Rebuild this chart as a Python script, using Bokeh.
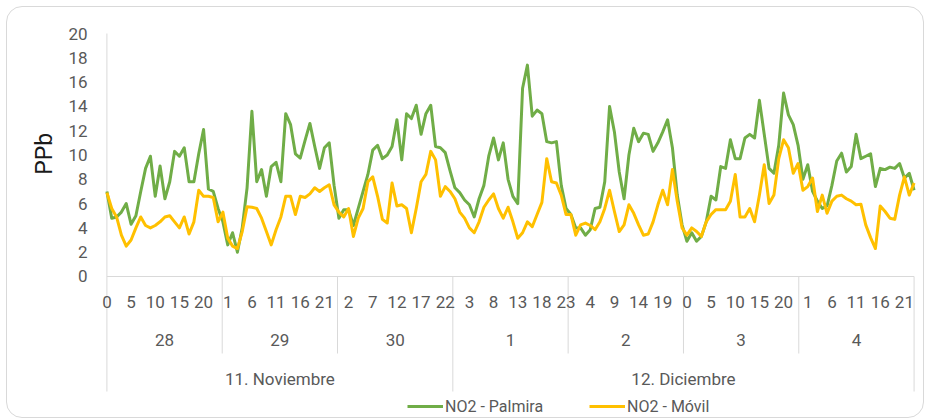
import math
from bokeh.plotting import figure
from bokeh.models import Range1d, Legend, LegendItem
from bokeh.core.properties import value
from bokeh.embed import file_html
from bokeh.resources import INLINE

# ---------------- data ----------------
days = ["28", "29", "30", "1", "2", "3", "4"]
months = ["11. Noviembre", "12. Diciembre"]
month_days = [3, 4]
hours_per_day = 24

palmira = [
    7.0, 4.8, 4.9, 5.3, 6.0, 4.3, 5.0, 7.0, 8.9, 9.9, 6.6, 9.1, 6.4, 7.8, 10.3, 9.9, 10.6, 7.8, 7.8, 10.1, 12.1, 7.2, 7.0, 5.6,
    4.5, 2.6, 3.6, 2.0, 4.0, 7.3, 13.6, 7.8, 8.8, 6.6, 9.05, 9.4, 7.8, 13.4, 12.5, 10.1, 9.75, 11.2, 12.6, 10.7, 8.9, 10.6, 11.0, 7.5,
    4.8, 5.5, 5.5, 4.2, 5.6, 7.0, 8.4, 10.4, 10.8, 9.7, 10.0, 10.7, 12.9, 9.6, 13.4, 13.0, 14.1, 11.7, 13.4, 14.1, 10.7, 10.6, 10.2, 8.7,
    7.3, 6.9, 6.3, 5.9, 4.9, 6.4, 7.5, 9.9, 11.4, 9.6, 11.0, 8.0, 6.6, 6.0, 15.5, 17.4, 13.2, 13.7, 13.4, 11.1, 11.0, 11.1, 7.5, 5.6,
    5.1, 4.0, 4.0, 3.4, 3.85, 5.6, 5.7, 7.8, 14.0, 11.9, 8.6, 6.4, 10.0, 12.2, 11.1, 11.8, 11.7, 10.3, 11.0, 11.9, 12.9, 10.6, 6.7, 4.25,
    2.9, 3.6, 2.9, 3.3, 4.5, 6.6, 6.3, 9.05, 8.9, 11.25, 9.7, 9.7, 11.4, 11.7, 11.4, 14.5, 11.7, 8.9, 8.5, 10.8, 15.1, 13.3, 12.5, 10.8,
    8.0, 9.2, 7.0, 6.2, 5.6, 5.8, 7.5, 9.5, 10.15, 8.6, 9.05, 11.7, 9.7, 9.9, 10.1, 7.4, 8.9, 8.8, 9.0, 8.9, 9.3, 8.1, 8.5, 7.1,
]
movil = [
    6.9, 5.6, 4.9, 3.4, 2.5, 3.0, 4.0, 4.9, 4.2, 4.0, 4.2, 4.5, 4.9, 5.0, 4.5, 4.0, 4.9, 3.5, 4.5, 7.1, 6.6, 6.6, 6.5, 4.5,
    5.3, 3.15, 2.5, 2.3, 3.7, 5.75, 5.7, 5.6, 4.8, 3.7, 2.6, 3.85, 4.9, 6.6, 6.6, 5.1, 6.6, 6.5, 6.8, 7.3, 7.0, 7.3, 7.55, 5.9,
    5.3, 4.9, 5.6, 3.3, 4.8, 5.6, 7.8, 8.2, 6.6, 4.7, 4.4, 7.7, 5.8, 5.9, 5.6, 3.6, 5.6, 7.8, 8.4, 10.3, 9.6, 6.6, 7.4, 7.0,
    6.4, 5.3, 4.8, 4.0, 3.6, 4.5, 5.7, 6.3, 6.8, 5.6, 4.8, 5.7, 4.5, 3.15, 3.6, 4.5, 4.1, 5.1, 6.1, 9.7, 7.8, 7.7, 6.7, 5.1,
    5.1, 3.4, 4.25, 4.4, 4.2, 3.85, 4.5, 5.6, 7.1, 5.35, 3.7, 4.25, 5.9, 5.2, 4.25, 3.4, 3.5, 4.5, 5.9, 7.1, 5.9, 8.8, 6.2, 4.0,
    3.4, 4.0, 3.7, 3.3, 4.5, 5.1, 5.5, 5.5, 5.5, 6.2, 8.4, 4.9, 4.9, 5.6, 4.5, 6.7, 9.2, 6.0, 6.7, 9.7, 11.25, 10.6, 8.5, 9.3,
    7.1, 7.4, 8.1, 5.35, 6.7, 5.2, 6.2, 6.6, 6.7, 6.4, 6.2, 5.9, 5.95, 4.25, 3.2, 2.3, 5.8, 5.35, 4.8, 4.7, 6.7, 8.2, 6.7, 7.7,
]
y_ticks = list(range(0, 21, 2))
y_title = "PPb"
series_names = ["NO2 - Palmira", "NO2 - Móvil"]

# ---------------- style ----------------
FONT = "Roboto"
TXT = "#595959"
AXC = "#d9d9d9"
GREEN = "#70ad47"
YELLOW = "#ffc000"

n = len(palmira)
xs = list(range(n))
tick_idx = xs[::5]
tick_txt = [str(i % hours_per_day) for i in tick_idx]

p = figure(width=918, height=412, output_backend="svg", toolbar_location=None,
           x_range=Range1d(-17.67, n - 0.5), y_range=Range1d(-11.69, 20.99),
           x_axis_location=None, y_axis_location=None,
           min_border_left=14, min_border_right=9, min_border_top=14, min_border_bottom=1,
           background_fill_color=None, border_fill_color=None, outline_line_color=None)
p.margin = (6, 0, 0, 6)
p.grid.visible = False
p.styles = {"border": "1px solid #d9d9d9", "border-radius": "16px"}

# category-axis geometry (in category units)
YTICK_X = -4.0
YTITLE_X = -12.9
HOUR_Y = -2.06
DAY_Y = -5.19
MONTH_Y = -8.4
DAY_SEP = -6.34
MONTH_SEP = -9.47

nd = len(days)
bounds = [k * (n - 1) / nd for k in range(nd + 1)]
month_b = [0]
for m in month_days:
    month_b.append(month_b[-1] + m)

# axis lines
p.segment(x0=[0, 0], y0=[0, MONTH_SEP], x1=[n - 1, 0], y1=[0, y_ticks[-1]],
          line_color=AXC, line_width=1)
# separators
sep_x, sep_y1 = [], []
for k, b in enumerate(bounds):
    if k == 0:
        continue
    sep_x.append(b)
    sep_y1.append(MONTH_SEP if k in month_b else DAY_SEP)
p.segment(x0=sep_x, y0=[0] * len(sep_x), x1=sep_x, y1=sep_y1, line_color=AXC, line_width=1)

# lines
g = p.line(xs, palmira, line_color=GREEN, line_width=3, line_join="round")
yl = p.line(xs, movil, line_color=YELLOW, line_width=3, line_join="round")

# y-axis labels
p.text(x=[YTICK_X] * len(y_ticks), y=y_ticks, text=[str(t) for t in y_ticks], text_font=value(FONT),
       text_font_size="17px", text_color=TXT, text_align="right", text_baseline="middle")
p.text(x=[YTITLE_X], y=[10.1], text=[y_title], angle=math.pi / 2, text_font=value(FONT),
       text_font_size="23px", text_color="#1a1a1a", text_align="center", text_baseline="middle")

# category labels
p.text(x=tick_idx, y=[HOUR_Y] * len(tick_idx), text=tick_txt, text_font=value(FONT),
       text_font_size="17px", text_color=TXT, text_align="center", text_baseline="middle")
day_cx = [(bounds[k] + bounds[k + 1]) / 2 for k in range(nd)]
p.text(x=day_cx, y=[DAY_Y] * nd, text=days, text_font=value(FONT),
       text_font_size="17px", text_color=TXT, text_align="center", text_baseline="middle")
mon_cx = [(bounds[month_b[i]] + bounds[month_b[i + 1]]) / 2 for i in range(len(months))]
p.text(x=mon_cx, y=[MONTH_Y] * len(months), text=months, text_font=value(FONT),
       text_font_size="17px", text_color=TXT, text_align="center", text_baseline="middle")

legend = Legend(items=[LegendItem(label=series_names[0], renderers=[g]),
                       LegendItem(label=series_names[1], renderers=[yl])],
                orientation="horizontal", location=(386, 2),
                border_line_color=None, background_fill_alpha=0,
                glyph_width=36, label_standoff=2, spacing=46, padding=0, margin=0,
                label_text_font=FONT, label_text_font_size="16px", label_text_color=TXT)
p.add_layout(legend)

open("out.html", "w").write(file_html(p, INLINE))
